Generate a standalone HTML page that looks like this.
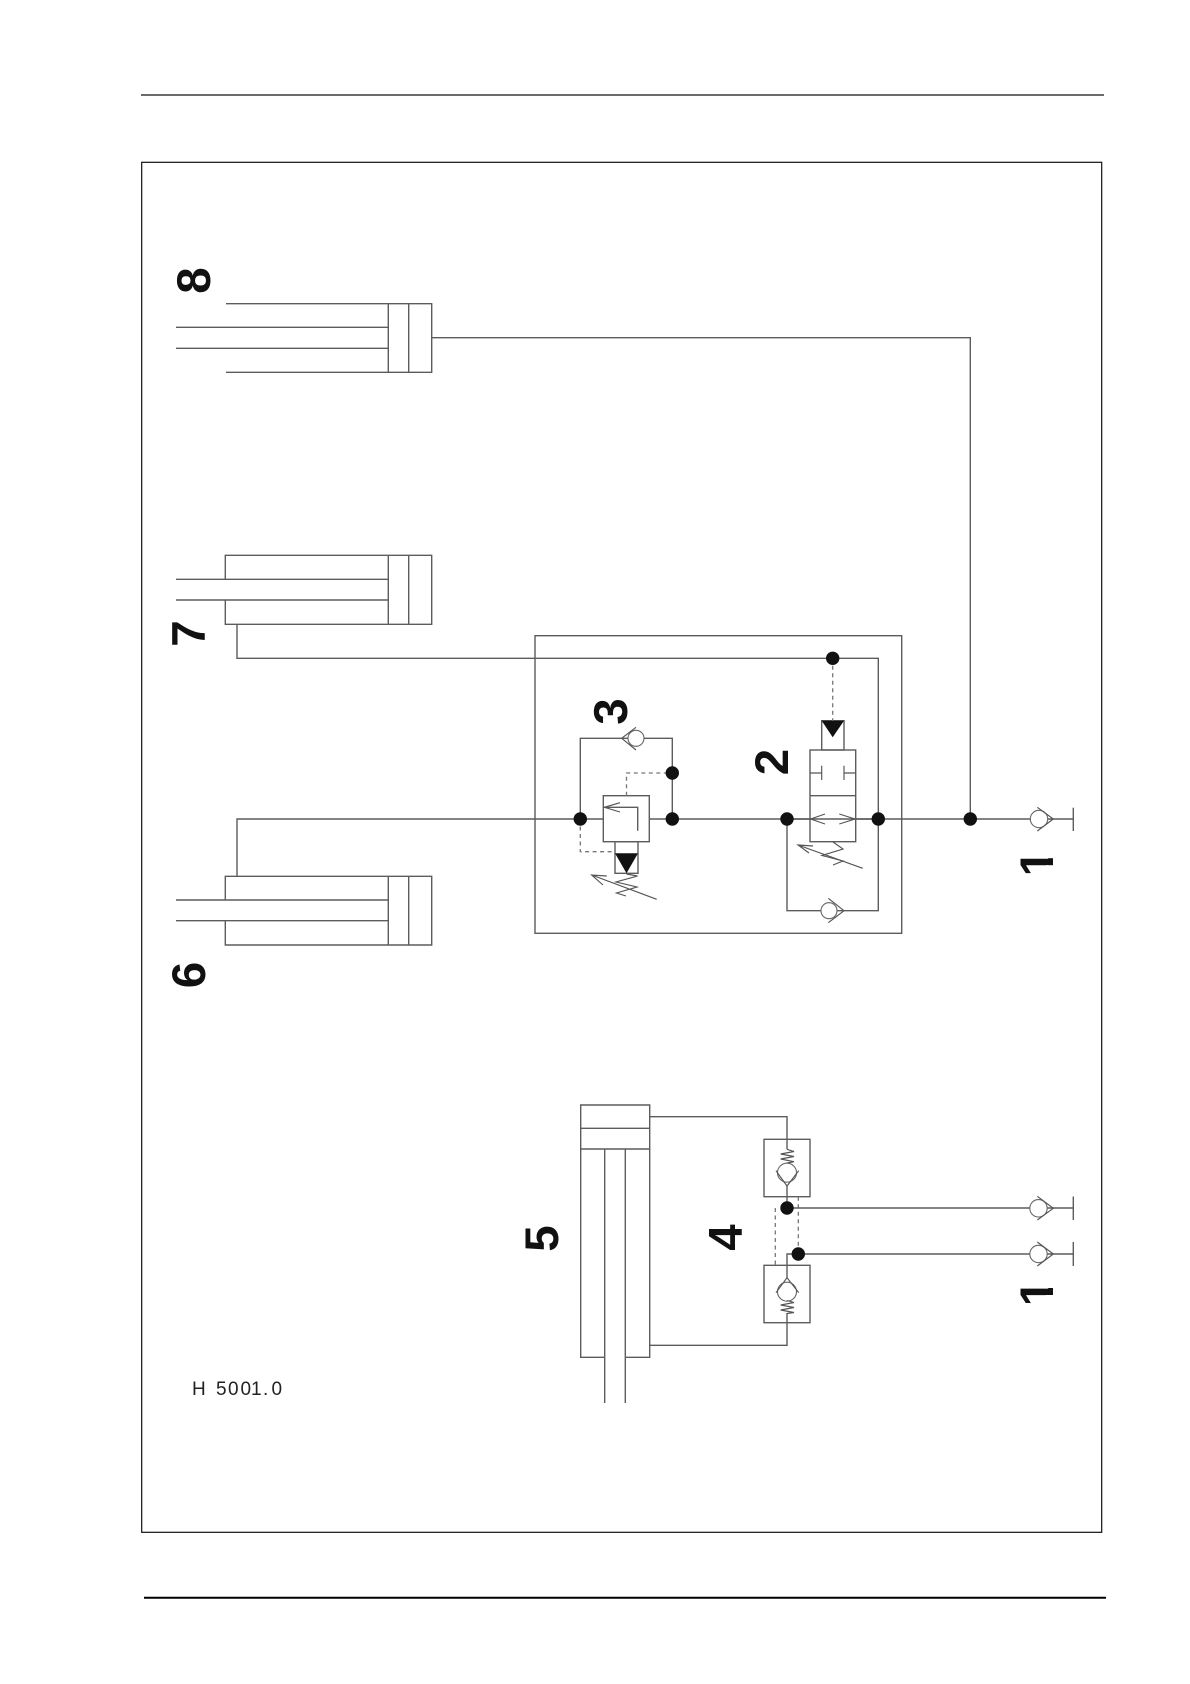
<!DOCTYPE html>
<html>
<head>
<meta charset="utf-8">
<style>
html,body{margin:0;padding:0;background:#fff;width:1190px;height:1684px;overflow:hidden}
svg{display:block}
.l{fill:none;stroke:#5c5c5c;stroke-width:1.4}
.t{fill:none;stroke:#555;stroke-width:1.15}
.d{fill:none;stroke:#777;stroke-width:1.3;stroke-dasharray:4 3.5}
.w{fill:#fff;stroke:#666;stroke-width:1.1}
.n{font-family:"Liberation Sans",Arial,sans-serif;font-weight:bold;font-size:47.5px;fill:#111;text-anchor:middle}
</style>
</head>
<body>
<svg width="1190" height="1684" viewBox="0 0 1190 1684" xmlns="http://www.w3.org/2000/svg">
<!-- page rules and frame -->
<line x1="141" y1="95" x2="1104" y2="95" stroke="#111" stroke-width="1.3"/>
<line x1="144" y1="1597.7" x2="1106" y2="1597.7" stroke="#000" stroke-width="2"/>
<rect x="141.7" y="162.3" width="960" height="1370" fill="none" stroke="#111" stroke-width="1.2"/>

<g style="filter:blur(.35px)">
<!-- cylinder 8 -->
<path class="l" d="M226 303.7H431.7V372.3H226M176 327.3H388.3M176 348.3H388.3M388.3 303.7V372.3M408.7 303.7V372.3"/>
<path class="l" d="M431.7 337.7H970.3V819"/>

<!-- cylinder 7 -->
<path class="l" d="M176 579.3H388.3M176 600H388.3M225.3 579.3V555.3H431.7V624.3H225.3V600M388.3 555.3V624.3M408.7 555.3V624.3"/>
<path class="l" d="M237 624.3V658.3H878.3V819"/>

<!-- cylinder 6 -->
<path class="l" d="M176 900H388.3M176 920.7H388.3M225.3 900V876.3H431.7V945H225.3V920.7M388.3 876.3V945M408.7 876.3V945"/>
<path class="l" d="M237 876.3V819H1073.3"/>

<!-- manifold box -->
<rect class="l" x="535" y="635.7" width="366.7" height="297.6"/>

<!-- valve 3 -->
<path class="l" d="M580.3 819V738.3H672.3V819"/>
<rect x="603.3" y="795.7" width="46" height="46" fill="#fff" stroke="#5c5c5c" stroke-width="1.4"/>
<path class="l" d="M604.3 807.3H637.7V830.7"/>
<path class="t" d="M620 802.7L604.3 807.3L620 812"/>
<rect class="l" x="615" y="841.7" width="23" height="31.6"/>
<path d="M615 853.3H638L626.5 873.3Z" fill="#111"/>
<path class="d" d="M580.3 819V851.7H615"/>
<path class="d" d="M626.5 795.7V773H672.3"/>
<circle class="w" cx="636" cy="738.3" r="8"/>
<path class="t" d="M636 727.3L621.7 738.3L636 750"/>
<path class="t" d="M626.5 874L637.5 876L616 882L637 887L616.5 893L626 896"/>
<path class="t" d="M656.7 899.3L591.7 875M606.7 876L591.7 875L603 885"/>

<!-- valve 2 -->
<rect x="810" y="750" width="45.7" height="91.7" fill="#fff" stroke="#5c5c5c" stroke-width="1.4"/>
<path class="l" d="M810 795.7H855.7"/>
<path class="t" d="M810 773H821.7M821.7 765.7V780M855.7 773H844M844 765.7V780"/>
<path class="l" d="M787 819H878.3"/>
<path class="t" d="M825 814L810.7 819L825 824M839.3 814L855 819L839.3 824"/>
<rect class="l" x="821.7" y="720.7" width="22.3" height="29.3"/>
<path d="M821.7 720.7H844L832.7 737.3Z" fill="#111"/>
<line class="d" x1="832.7" y1="658.3" x2="832.7" y2="720.7"/>
<path class="t" d="M833 842L843 849L822 855.5L843 861L833 865"/>
<path class="t" d="M862.7 868.3L798 845M813 846L798 845L809 853"/>
<path class="l" d="M787 819V910.7H878.3V819"/>
<circle class="w" cx="829" cy="910.7" r="8"/>
<path class="t" d="M828.3 898.3L844 910.7L828.3 922.7"/>

<!-- supply check 1 top -->
<circle class="w" cx="1039" cy="819" r="8.7"/>
<path class="t" d="M1037.3 807.3L1053.3 819L1037.3 831"/>
<line class="l" x1="1073.3" y1="807.7" x2="1073.3" y2="831"/>

<!-- dots -->
<g fill="#111">
<circle cx="832.7" cy="658.3" r="6.7"/>
<circle cx="580.3" cy="819" r="6.7"/>
<circle cx="672.3" cy="819" r="6.7"/>
<circle cx="672.3" cy="773" r="6.7"/>
<circle cx="787" cy="819" r="6.7"/>
<circle cx="878.3" cy="819" r="6.7"/>
<circle cx="970.3" cy="819" r="6.7"/>
</g>

<!-- cylinder 5 -->
<path class="l" d="M604.7 1357.3H580.7V1105H649.7V1357.3H625.3M580.7 1128.3H649.7M580.7 1149H649.7M604.7 1149V1403M625.3 1149V1403"/>
<rect class="l" x="764" y="1139.3" width="46" height="57.4"/>
<rect class="l" x="764" y="1265.3" width="46" height="57.4"/>
<path class="l" d="M649.7 1116.7H787V1149.3M787 1186V1208"/>
<path class="l" d="M649.7 1345.3H787V1313M787 1277.7V1254H798.3"/>
<path class="d" d="M775.3 1208V1265.3M798.3 1196.7V1254"/>
<path class="l" d="M787 1208H1073"/>
<path class="l" d="M798.3 1254H1073"/>

<!-- pilot checks 4 -->
<circle class="w" cx="787" cy="1172.7" r="9.5"/>
<path class="t" d="M776 1170.7L787 1186L798.7 1170.7"/>
<path class="t" d="M787 1149.3L794 1151.5L780.7 1154L794 1156.5L780.7 1159L794 1161.7L787 1163"/>
<circle class="w" cx="787" cy="1291.7" r="9.5"/>
<path class="t" d="M776 1292.7L787 1277.7L798.7 1292.7"/>
<path class="t" d="M787 1300.5L794 1302.5L780.7 1305L794 1307.5L780.7 1310L794 1312.5L787 1313.5"/>

<!-- supply checks 1 bottom -->
<circle class="w" cx="1038.5" cy="1208.3" r="8.7"/>
<path class="t" d="M1037.3 1196.3L1053.3 1208.3L1037.3 1220"/>
<line class="l" x1="1073.3" y1="1196.5" x2="1073.3" y2="1220"/>
<circle class="w" cx="1038.5" cy="1254" r="8.7"/>
<path class="t" d="M1037.3 1242L1053.3 1254L1037.3 1266"/>
<line class="l" x1="1073.3" y1="1242" x2="1073.3" y2="1266"/>

<circle cx="787" cy="1208" r="6.7" fill="#111"/>
<circle cx="798.3" cy="1254" r="6.7" fill="#111"/>

<!-- labels -->
<text class="n" transform="translate(210 280.5) rotate(-90)">8</text>
<text class="n" transform="translate(205 633.5) rotate(-90)">7</text>
<text class="n" transform="translate(205 975) rotate(-90)">6</text>
<text class="n" transform="translate(558 1238.5) rotate(-90)">5</text>
<text class="n" transform="translate(741.7 1237.5) rotate(-90)">4</text>
<text class="n" transform="translate(627 711.5) rotate(-90)">3</text>
<text class="n" transform="translate(788 762) rotate(-90)">2</text>
<text class="n" transform="translate(1053 863.2) rotate(-90)">1</text>
<text class="n" transform="translate(1053 1293) rotate(-90)">1</text>
<!-- mask the foot serif on the numeral 1 -->
<g fill="#fff">
<rect x="1046" y="847" width="9" height="11.2"/>
<rect x="1046" y="865.2" width="9" height="11"/>
<rect x="1046" y="1276.8" width="9" height="11.2"/>
<rect x="1046" y="1295" width="9" height="11"/>
</g>

<text y="1395" x="192 203 216 228 240.5 251 263 271.5" font-family="'Liberation Sans',Arial,sans-serif" font-size="19" fill="#222">H 5001.0</text>
</g>
</svg>
</body>
</html>
